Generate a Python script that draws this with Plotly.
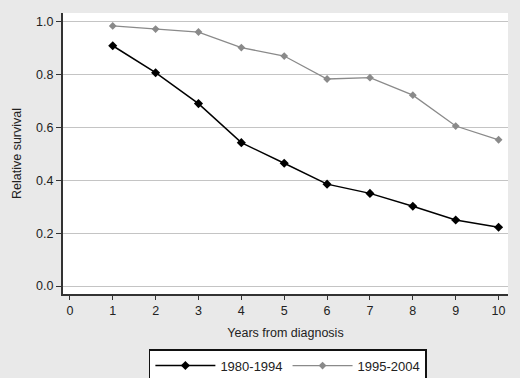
import plotly.graph_objects as go

years = [1, 2, 3, 4, 5, 6, 7, 8, 9, 10]
surv_1980_1994 = [0.910, 0.808, 0.691, 0.543, 0.465, 0.386, 0.351, 0.302, 0.250, 0.223]
surv_1995_2004 = [0.985, 0.973, 0.962, 0.903, 0.871, 0.784, 0.789, 0.723, 0.606, 0.554]
series_names = ["1980-1994", "1995-2004"]
x_ticks = list(range(0, 11))
y_ticks = [0.0, 0.2, 0.4, 0.6, 0.8, 1.0]

FONT = "Liberation Sans, Arial, sans-serif"

fig = go.Figure()
fig.add_trace(go.Scatter(
    x=years, y=surv_1980_1994, name=series_names[0], mode="lines+markers",
    line=dict(color="#000000", width=1.5),
    marker=dict(symbol="diamond", size=7, color="#000000"),
))
fig.add_trace(go.Scatter(
    x=years, y=surv_1995_2004, name=series_names[1], mode="lines+markers",
    line=dict(color="#8a8a8a", width=1.3),
    marker=dict(symbol="diamond", size=6, color="#8a8a8a"),
))

fig.update_layout(
    width=520, height=378,
    margin=dict(l=63, r=12, t=13, b=84, autoexpand=False),
    paper_bgcolor="#e9e9e9",
    plot_bgcolor="#ffffff",
    font=dict(family=FONT, size=12, color="#222222"),
    showlegend=True,
    legend=dict(
        orientation="h", x=0.193, y=-0.196, xanchor="left", yanchor="top",
        bgcolor="#ffffff", bordercolor="#111111", borderwidth=1.5,
        font=dict(family=FONT, size=13, color="#222222"),
        itemwidth=60,
        tracegroupgap=0,
    ),
    xaxis=dict(
        range=[-0.16, 10.22], tickvals=x_ticks, ticktext=[str(v) for v in x_ticks],
        showgrid=False, zeroline=False, automargin=False,
        showline=True, linecolor="#333333", linewidth=2,
        ticks="outside", ticklen=4, tickcolor="#333333", tickwidth=1,
        ticklabelstandoff=0,
        tickfont=dict(family=FONT, size=12.5),
        title=dict(text="Years from diagnosis", font=dict(family=FONT, size=12.5), standoff=11),
    ),
    yaxis=dict(
        range=[-0.03, 1.034], tickvals=y_ticks, ticktext=[f"{v:.1f}" for v in y_ticks],
        showgrid=True, gridcolor="#c4c4c4", gridwidth=1, zeroline=False, automargin=False,
        showline=True, linecolor="#333333", linewidth=2,
        ticks="outside", ticklen=5, tickcolor="#333333", tickwidth=1,
        tickfont=dict(family=FONT, size=12.5),
        title=dict(text="Relative survival", font=dict(family=FONT, size=12.5), standoff=12),
    ),
)

fig.write_html(
    "out.html",
    config={"displayModeBar": False},
    post_script="document.body.style.margin='0';document.body.style.padding='0';",
)
